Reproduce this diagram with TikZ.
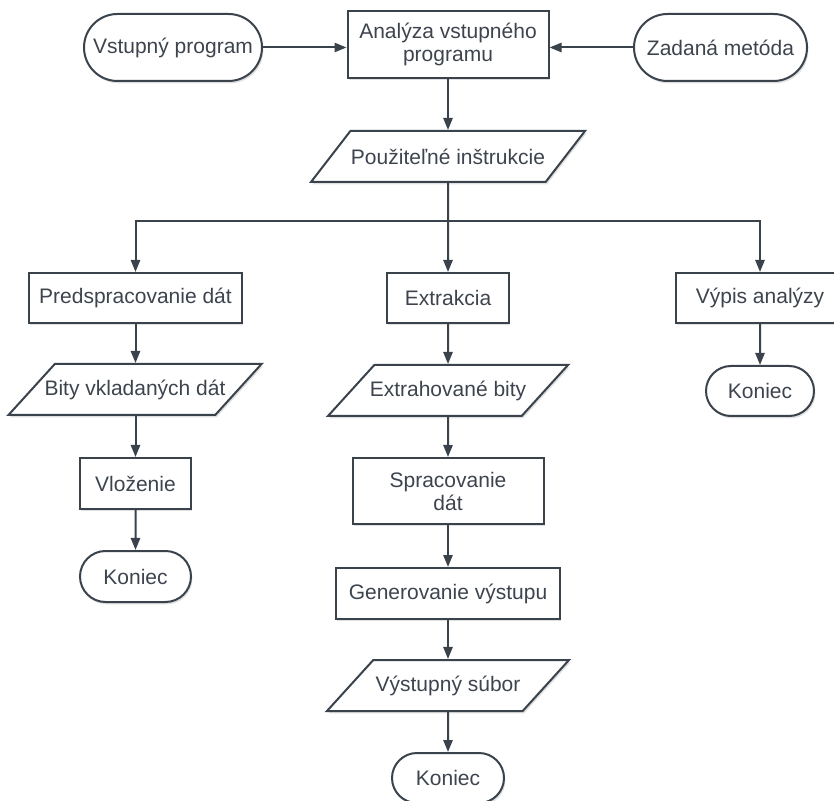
\documentclass[tikz,border=0pt]{standalone}
\usepackage{fontspec}
\setmainfont{Liberation Sans}
\usetikzlibrary{positioning,arrows.meta,shapes.geometric,shapes.misc,shadows}
\definecolor{flowline}{RGB}{58,66,76}
\definecolor{flowtext}{RGB}{62,68,78}
\tikzset{
  base-node/.style={draw=flowline, line width=1pt, fill=white, text=flowtext,
    font=\fontsize{10.5pt}{11.5pt}\selectfont, align=center, inner sep=2pt,
    drop shadow={shadow xshift=0.7pt, shadow yshift=-1.2pt, fill=black, opacity=0.12}},
  proc-node/.style={base-node, rectangle},
  io-node/.style={base-node, trapezium, trapezium left angle=31, trapezium right angle=149,
    trapezium stretches body, inner xsep=-8pt},
  term-node/.style={base-node, rounded rectangle},
  flow-arrow/.style={-{Triangle[length=6pt,width=4.6pt]}, line width=1pt, draw=flowline}
}
\begin{document}
\begin{tikzpicture}[x=0.5pt, y=-0.5pt]
\clip (0,0) rectangle (834,801);
\fill[white] (0,0) rectangle (834,801);
% inputs and the analysis step
\node[term-node, minimum width=93pt, minimum height=33.5pt] (input) at (173,47.5) {Vstupný program};
\node[proc-node, minimum width=100.5pt, minimum height=33.5pt] (analysis) at (448,44.5) {Analýza vstupného\\programu};
\node[term-node, minimum width=90.5pt, minimum height=33.5pt] (method) at (720.5,47.5) {Zadaná metóda};
\node[io-node, minimum width=137pt, minimum height=25.5pt] (instr) at (448,156.5) {Použiteľné inštrukcie};
\coordinate (fork) at (448,221);
% three branches
\node[proc-node, minimum width=106.5pt, minimum height=25pt] (prep) at (135.5,298) {Predspracovanie dát};
\node[proc-node, minimum width=61pt, minimum height=25pt] (extract) at (448,298) {Extrakcia};
\node[proc-node, minimum width=84pt, minimum height=25pt] (listing) at (760,298) {Výpis analýzy};
% left branch: embedding
\node[io-node, minimum width=126.5pt, minimum height=25.5pt] (bits) at (135,389.5) {Bity vkladaných dát};
\node[proc-node, minimum width=55.5pt, minimum height=25.5pt] (embed) at (135.5,483.5) {Vloženie};
\node[term-node, minimum width=59.5pt, minimum height=25.5pt] (endleft) at (135.5,576.5) {Koniec};
% middle branch: extraction
\node[io-node, minimum width=120pt, minimum height=25.5pt] (exbits) at (448,390.5) {Extrahované bity};
\node[proc-node, minimum width=95.5pt, minimum height=33pt] (process) at (448,491) {Spracovanie\\dát};
\node[proc-node, minimum width=112pt, minimum height=25.5pt] (generate) at (448,593.5) {Generovanie výstupu};
\node[io-node, minimum width=121pt, minimum height=25.5pt] (outfile) at (448,685.5) {Výstupný súbor};
\node[term-node, minimum width=60pt, minimum height=25pt] (endmid) at (448,778) {Koniec};
% right branch
\node[term-node, minimum width=58pt, minimum height=25pt] (endright) at (760,391) {Koniec};
% connectors
\draw[flow-arrow] (input.east) -- (input.east -| analysis.west);
\draw[flow-arrow] (method.west) -- (method.west -| analysis.east);
\draw[flow-arrow] (analysis) -- (instr);
\draw[flow-arrow] (instr) -- (extract);
\draw[flow-arrow] (fork) -| (prep);
\draw[flow-arrow] (fork) -| (listing);
\draw[flow-arrow] (prep) -- (bits.north -| prep);
\draw[flow-arrow] (bits.south -| embed) -- (embed);
\draw[flow-arrow] (embed) -- (endleft);
\draw[flow-arrow] (extract) -- (exbits);
\draw[flow-arrow] (exbits) -- (process);
\draw[flow-arrow] (process) -- (generate);
\draw[flow-arrow] (generate) -- (outfile);
\draw[flow-arrow] (outfile) -- (endmid);
\draw[flow-arrow] (listing) -- (endright);
\end{tikzpicture}
\end{document}
